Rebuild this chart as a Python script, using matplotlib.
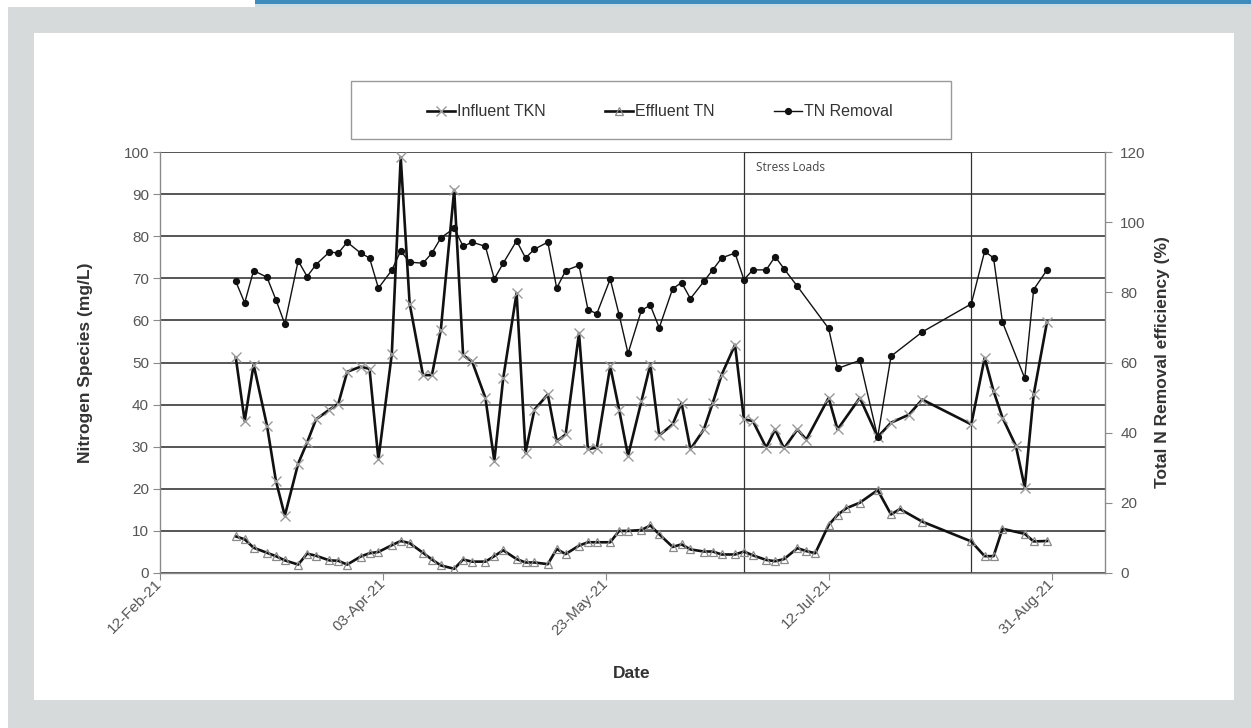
import matplotlib
matplotlib.use("Agg")
import matplotlib.pyplot as plt
import matplotlib.dates as mdates
from matplotlib.patches import Rectangle
import pandas as pd

plt.rcParams['font.family'] = ['Liberation Sans', 'DejaVu Sans']

# ---------------- data ----------------
tkn_dates = ["2021-03-01", "2021-03-03", "2021-03-05", "2021-03-08", "2021-03-10", "2021-03-12",
             "2021-03-15", "2021-03-17", "2021-03-19", "2021-03-22", "2021-03-24", "2021-03-26",
             "2021-03-29", "2021-03-31", "2021-04-02", "2021-04-05", "2021-04-07", "2021-04-09",
             "2021-04-12", "2021-04-14", "2021-04-16", "2021-04-19", "2021-04-21", "2021-04-23",
             "2021-04-26", "2021-04-28", "2021-04-30", "2021-05-03", "2021-05-05", "2021-05-07",
             "2021-05-10", "2021-05-12", "2021-05-14", "2021-05-17", "2021-05-19", "2021-05-21",
             "2021-05-24", "2021-05-26", "2021-05-28", "2021-05-31", "2021-06-02", "2021-06-04",
             "2021-06-07", "2021-06-09", "2021-06-11", "2021-06-14", "2021-06-16", "2021-06-18",
             "2021-06-21", "2021-06-23", "2021-06-25", "2021-06-28", "2021-06-30", "2021-07-02",
             "2021-07-05", "2021-07-07", "2021-07-12", "2021-07-14", "2021-07-19", "2021-07-23",
             "2021-07-26", "2021-07-30", "2021-08-02", "2021-08-13", "2021-08-16", "2021-08-18",
             "2021-08-20", "2021-08-23", "2021-08-25", "2021-08-27", "2021-08-30"]
influent_tkn = [51.2, 36.1, 49.5, 35.0, 21.9, 13.6,
                26.0, 31.0, 36.5, 38.8, 40.2, 47.8,
                49.0, 48.5, 27.0, 52.0, 98.8, 64.0,
                47.0, 47.0, 57.8, 91.0, 51.7, 50.3,
                41.6, 26.6, 46.3, 66.5, 28.6, 38.8,
                42.4, 31.3, 32.9, 57.0, 29.4, 29.8,
                49.1, 38.8, 27.8, 40.8, 49.5, 32.7,
                35.3, 40.4, 29.4, 34.1, 40.4, 47.1,
                54.2, 36.5, 36.1, 29.8, 34.1, 29.6,
                34.1, 31.7, 41.6, 34.1, 41.6, 32.3,
                35.7, 37.6, 41.2, 35.3, 51.1, 43.2,
                36.9, 30.2, 20.3, 42.4, 59.7]

tn_dates = ["2021-03-01", "2021-03-03", "2021-03-05", "2021-03-08", "2021-03-10", "2021-03-12",
            "2021-03-15", "2021-03-17", "2021-03-19", "2021-03-22", "2021-03-24", "2021-03-26",
            "2021-03-29", "2021-03-31", "2021-04-02", "2021-04-05", "2021-04-07", "2021-04-09",
            "2021-04-12", "2021-04-14", "2021-04-16", "2021-04-19", "2021-04-21", "2021-04-23",
            "2021-04-26", "2021-04-28", "2021-04-30", "2021-05-03", "2021-05-05", "2021-05-07",
            "2021-05-10", "2021-05-12", "2021-05-14", "2021-05-17", "2021-05-19", "2021-05-21",
            "2021-05-24", "2021-05-26", "2021-05-28", "2021-05-31", "2021-06-02", "2021-06-04",
            "2021-06-07", "2021-06-09", "2021-06-11", "2021-06-14", "2021-06-16", "2021-06-18",
            "2021-06-21", "2021-06-23", "2021-06-25", "2021-06-28", "2021-06-30", "2021-07-02",
            "2021-07-05", "2021-07-07", "2021-07-09", "2021-07-12", "2021-07-14", "2021-07-16",
            "2021-07-19", "2021-07-23", "2021-07-26", "2021-07-28", "2021-08-02", "2021-08-13",
            "2021-08-16", "2021-08-18", "2021-08-20", "2021-08-25", "2021-08-27", "2021-08-30"]
effluent_tn = [8.7, 8.0, 6.0, 4.8, 4.0, 3.0,
               2.0, 4.6, 4.1, 3.0, 2.9, 2.0,
               3.9, 4.7, 5.0, 6.6, 7.6, 7.1,
               4.8, 3.2, 1.8, 1.0, 3.2, 2.7,
               2.7, 4.0, 5.4, 3.3, 2.5, 2.5,
               2.1, 5.7, 4.5, 6.5, 7.3, 7.3,
               7.3, 10.0, 10.0, 10.2, 11.3, 9.2,
               6.2, 6.8, 5.6, 5.1, 5.1, 4.4,
               4.4, 5.1, 4.2, 3.1, 2.8, 3.3,
               5.9, 5.2, 4.7, 11.4, 13.8, 15.4,
               16.7, 19.7, 13.9, 15.2, 12.2, 7.5,
               4.0, 4.0, 10.5, 9.3, 7.5, 7.6]

removal_dates = ["2021-03-01", "2021-03-03", "2021-03-05", "2021-03-08", "2021-03-10", "2021-03-12",
                 "2021-03-15", "2021-03-17", "2021-03-19", "2021-03-22", "2021-03-24", "2021-03-26",
                 "2021-03-29", "2021-03-31", "2021-04-02", "2021-04-05", "2021-04-07", "2021-04-09",
                 "2021-04-12", "2021-04-14", "2021-04-16", "2021-04-19", "2021-04-21", "2021-04-23",
                 "2021-04-26", "2021-04-28", "2021-04-30", "2021-05-03", "2021-05-05", "2021-05-07",
                 "2021-05-10", "2021-05-12", "2021-05-14", "2021-05-17", "2021-05-19", "2021-05-21",
                 "2021-05-24", "2021-05-26", "2021-05-28", "2021-05-31", "2021-06-02", "2021-06-04",
                 "2021-06-07", "2021-06-09", "2021-06-11", "2021-06-14", "2021-06-16", "2021-06-18",
                 "2021-06-21", "2021-06-23", "2021-06-25", "2021-06-28", "2021-06-30", "2021-07-02",
                 "2021-07-05", "2021-07-12", "2021-07-14", "2021-07-19", "2021-07-23", "2021-07-26",
                 "2021-08-02", "2021-08-13", "2021-08-16", "2021-08-18", "2021-08-20", "2021-08-25",
                 "2021-08-27", "2021-08-30"]
tn_removal = [83.1, 77.0, 86.2, 84.3, 77.9, 71.0,
              89.0, 84.5, 87.9, 91.5, 91.2, 94.3,
              91.2, 89.8, 81.2, 86.3, 91.8, 88.6,
              88.3, 91.2, 95.5, 98.3, 93.1, 94.3,
              93.1, 83.8, 88.3, 94.7, 89.8, 92.3,
              94.3, 81.2, 86.2, 87.7, 75.1, 73.9,
              83.8, 73.6, 62.6, 74.9, 76.3, 69.9,
              81.0, 82.8, 78.2, 83.1, 86.4, 89.8,
              91.2, 83.6, 86.4, 86.4, 90.2, 86.7,
              81.7, 69.7, 58.3, 60.6, 38.7, 61.8,
              68.7, 76.7, 91.7, 89.8, 71.5, 55.5,
              80.8, 86.4]

x_tick_dates = ["2021-02-12", "2021-04-03", "2021-05-23", "2021-07-12", "2021-08-31"]
x_limits = ["2021-02-12", "2021-09-12"]
stress_period = ["2021-06-23", "2021-08-13"]
left_ticks = list(range(0, 101, 10))
right_ticks = list(range(0, 121, 20))

# ---------------- figure & backdrop ----------------
W, H = 1251, 728
fig = plt.figure(figsize=(W / 100, H / 100), dpi=100)
fig.patch.set_facecolor('white')


def backdrop(x0, y0, x1, y1, color, z=-20):
    fig.add_artist(Rectangle((x0 / W, 1 - y1 / H), (x1 - x0) / W, (y1 - y0) / H,
                             transform=fig.transFigure, facecolor=color,
                             edgecolor='none', zorder=z))


backdrop(8, 7, W, H, '#d7dada')
backdrop(255, 0, W, 4, '#3f8bbb', z=-19)
backdrop(255, 4, W, 7, '#c6dbe6', z=-19)
backdrop(34, 33, 1234, 700, 'white', z=-18)

# ---------------- axes ----------------
ax = fig.add_axes([160 / W, 1 - 573 / H, 945 / W, 421 / H])
ax.set_facecolor('none')
ax2 = ax.twinx()

t_tkn = pd.to_datetime(tkn_dates)
t_tn = pd.to_datetime(tn_dates)
t_rem = pd.to_datetime(removal_dates)

l1, = ax.plot(t_tkn, influent_tkn, color='#111111', lw=1.9, marker='x', ms=6.5,
              mec='#9a9a9a', mew=1.0, zorder=3, label='Influent TKN')
l2, = ax.plot(t_tn, effluent_tn, color='#111111', lw=1.9, marker='^', ms=6,
              mfc='none', mec='#8a8a8a', mew=0.9, zorder=3, label='Effluent TN')
l3, = ax2.plot(t_rem, tn_removal, color='#111111', lw=1.0, marker='o', ms=4.2,
               mfc='#111111', mec='#111111', zorder=3, label='TN Removal')

xl = pd.to_datetime(x_limits)
ax.set_xlim(xl[0], xl[1])
ax.set_ylim(0, 100)
ax2.set_ylim(0, 120)

ax.set_yticks(left_ticks)
ax2.set_yticks(right_ticks)
ax.yaxis.grid(True, color='#555555', lw=1.4)
ax.set_axisbelow(True)

xt = pd.to_datetime(x_tick_dates)
ax.set_xticks(xt)
ax.xaxis.set_major_formatter(mdates.DateFormatter('%d-%b-%y'))
for lab in ax.get_xticklabels():
    lab.set_rotation(45)
    lab.set_ha('right')
    lab.set_va('center')
    lab.set_rotation_mode('anchor')

for a in (ax, ax2):
    a.spines['top'].set_visible(False)
ax.spines['right'].set_visible(False)
ax2.spines['left'].set_visible(False)
ax2.spines['bottom'].set_visible(False)
for a, s in ((ax, 'left'), (ax, 'bottom'), (ax2, 'right')):
    a.spines[s].set_color('#8a8a8a')
    a.spines[s].set_linewidth(1.0)

ax.tick_params(axis='y', direction='out', length=5, color='#8a8a8a',
               labelcolor='#555555', labelsize=11, pad=3)
ax.tick_params(axis='x', direction='out', length=5, color='#8a8a8a',
               labelcolor='#555555', labelsize=11, pad=1)
ax2.tick_params(axis='y', direction='out', length=5, color='#8a8a8a',
                labelcolor='#555555', labelsize=11, pad=6)

# stress-load period box
sp = pd.to_datetime(stress_period)
s0, s1 = mdates.date2num(sp[0]), mdates.date2num(sp[1])
ax.add_patch(Rectangle((s0, 0), s1 - s0, 100, fill=False, ec='#333333', lw=0.9, zorder=2))
ax.text(s0 + 2.7, 96.3, 'Stress Loads', fontsize=8.5, family=['Open Sans', 'DejaVu Sans'],
        color='#444444', va='center', ha='left')

# axis titles
ax.set_ylabel('Nitrogen Species (mg/L)', fontsize=12.5, fontweight='bold', color='#333333')
ax.yaxis.set_label_coords(-0.071, 0.5)
ax2.set_ylabel('Total N Removal efficiency (%)', fontsize=12.5, fontweight='bold',
               color='#333333', rotation=90)
ax2.yaxis.set_label_coords(1.053, 0.5)
ax.set_xlabel('Date', fontsize=12.5, fontweight='bold', color='#333333')
ax.xaxis.set_label_coords(0.4995, -0.222)

# legend with its own frame
fig.add_artist(Rectangle((351 / W, 1 - 139 / H), 600 / W, 58 / H, transform=fig.transFigure,
                         facecolor='white', edgecolor='#9a9a9a', lw=1.0, zorder=1))
leg = fig.legend([l1, l2, l3], ['Influent TKN', 'Effluent TN', 'TN Removal'], ncol=3,
                 frameon=False, loc='center', bbox_to_anchor=(659.5 / W, 1 - 112 / H),
                 fontsize=11.5, columnspacing=3.7, handlelength=1.8, handletextpad=0.1,
                 labelcolor='#333333')
leg.set_zorder(2)

fig.savefig('out.png', dpi=100, facecolor=fig.get_facecolor())
